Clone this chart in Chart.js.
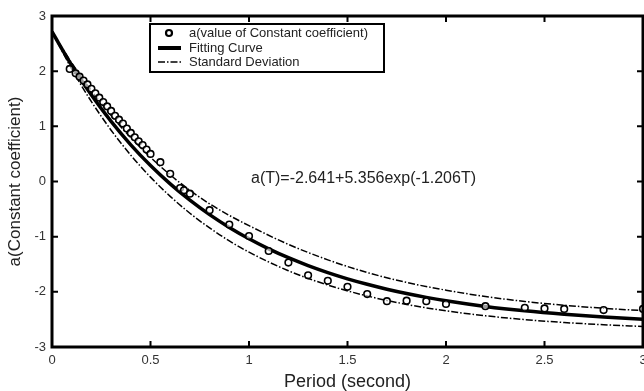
<!DOCTYPE html>
<html>
<head>
<meta charset="utf-8">
<script src="https://cdn.jsdelivr.net/npm/chart.js@4/dist/chart.umd.min.js"></script>
<style>
  html, body { margin: 0; padding: 0; background: #fff; }
  #wrap { width: 644px; height: 391px; }
</style>
</head>
<body>
<div id="wrap"><canvas id="chart"></canvas></div>
<script>
// measured a values (open circles)
const pointT = [0.09, 0.12, 0.14, 0.16, 0.18, 0.2, 0.22, 0.24, 0.26, 0.28, 0.3, 0.32, 0.34, 0.36, 0.38,
    0.4, 0.42, 0.44, 0.46, 0.48, 0.5, 0.55, 0.6, 0.65, 0.67, 0.7, 0.8, 0.9, 1.0, 1.1, 1.2, 1.3, 1.4,
    1.5, 1.6, 1.7, 1.8, 1.9, 2.0, 2.2, 2.4, 2.5, 2.6, 2.8, 3.0];
const pointA = [2.04, 1.96, 1.90, 1.83, 1.76, 1.68, 1.60, 1.52, 1.44, 1.36, 1.28, 1.19, 1.12, 1.05, 0.96,
    0.88, 0.80, 0.73, 0.66, 0.58, 0.50, 0.35, 0.14, -0.12, -0.16, -0.22, -0.52, -0.78, -0.99, -1.26, -1.47, -1.70, -1.80,
    -1.91, -2.04, -2.17, -2.16, -2.17, -2.22, -2.26, -2.29, -2.30, -2.31, -2.33, -2.31];

// fitting curve
const fitT = [0, 0.1, 0.2, 0.3, 0.4, 0.5, 0.6, 0.7, 0.8, 0.9, 1.0, 1.1, 1.2, 1.3, 1.4, 1.5,
    1.6, 1.7, 1.8, 1.9, 2.0, 2.2, 2.4, 2.6, 2.8, 3.0];
const fitA = [2.715, 2.107, 1.567, 1.089, 0.665, 0.290, -0.043, -0.338, -0.600, -0.832, -1.037, -1.220, -1.381, -1.524, -1.651, -1.764,
    -1.863, -1.952, -2.030, -2.100, -2.161, -2.264, -2.345, -2.408, -2.458, -2.497];

// standard deviation band
const sdT = [0, 0.1, 0.2, 0.3, 0.4, 0.5, 0.6, 0.7, 0.8, 0.9, 1.0, 1.2, 1.4, 1.6, 1.8, 2.0, 2.2, 2.4, 2.6, 2.8, 3.0];
const sdUpper = [2.715, 2.150, 1.646, 1.197, 0.796, 0.439, 0.120, -0.160, -0.405, -0.615, -0.800, -1.140, -1.420,
    -1.650, -1.830, -1.970, -2.085, -2.175, -2.243, -2.298, -2.341];
const sdLower = [2.715, 2.040, 1.449, 0.930, 0.477, 0.079, -0.269, -0.575, -0.842, -1.076, -1.281, -1.618, -1.877,
    -2.075, -2.228, -2.345, -2.434, -2.503, -2.556, -2.596, -2.628];

const xTicks = [0, 0.5, 1, 1.5, 2, 2.5, 3];
const yTicks = [-3, -2, -1, 0, 1, 2, 3];

const legendLabels = ['a(value of Constant coefficient)', 'Fitting Curve', 'Standard Deviation'];
const equation = 'a(T)=-2.641+5.356exp(-1.206T)';

const FONT = '"Liberation Sans", Arial, sans-serif';
const SD_DASH = [7, 2, 1.5, 2];

const pairs = (xs, ys) => xs.map((x, i) => ({x: x, y: ys[i]}));

// frame, inward ticks, legend box and the formula
const decorations = {
    id: 'decorations',
    beforeDraw(chart) {
        const ctx = chart.ctx;
        ctx.save();
        ctx.fillStyle = '#fff';
        ctx.fillRect(0, 0, chart.width, chart.height);
        ctx.restore();
    },
    afterDraw(chart) {
        const {ctx, chartArea: a, scales: {x, y}} = chart;
        ctx.save();
        ctx.strokeStyle = '#000';
        ctx.lineWidth = 3;
        ctx.strokeRect(a.left, a.top, a.right - a.left, a.bottom - a.top);

        ctx.lineWidth = 2;
        ctx.beginPath();
        xTicks.forEach(v => {
            const px = x.getPixelForValue(v);
            ctx.moveTo(px, a.bottom); ctx.lineTo(px, a.bottom - 6);
            ctx.moveTo(px, a.top); ctx.lineTo(px, a.top + 6);
        });
        yTicks.forEach(v => {
            const py = y.getPixelForValue(v);
            ctx.moveTo(a.left, py); ctx.lineTo(a.left + 6, py);
            ctx.moveTo(a.right, py); ctx.lineTo(a.right - 6, py);
        });
        ctx.stroke();

        // legend
        const lx = 150, ly = 24, lw = 234, lh = 48;
        ctx.fillStyle = '#fff';
        ctx.fillRect(lx, ly, lw, lh);
        ctx.lineWidth = 2;
        ctx.strokeRect(lx, ly, lw, lh);
        const rows = [33, 48, 62];
        ctx.beginPath();
        ctx.lineWidth = 2.2;
        ctx.arc(169, rows[0], 3, 0, Math.PI * 2);
        ctx.stroke();
        ctx.beginPath();
        ctx.lineWidth = 4;
        ctx.moveTo(158, rows[1]); ctx.lineTo(181, rows[1]);
        ctx.stroke();
        ctx.beginPath();
        ctx.lineWidth = 1.5;
        ctx.setLineDash(SD_DASH);
        ctx.moveTo(158, rows[2]); ctx.lineTo(181, rows[2]);
        ctx.stroke();
        ctx.setLineDash([]);

        ctx.fillStyle = '#222';
        ctx.font = '13px ' + FONT;
        ctx.textBaseline = 'middle';
        ctx.textAlign = 'left';
        legendLabels.forEach((t, i) => ctx.fillText(t, 189, rows[i]));

        ctx.font = '16px ' + FONT;
        ctx.fillText(equation, 251, 179);
        ctx.restore();
    }
};

new Chart(document.getElementById('chart'), {
    type: 'scatter',
    data: {
        datasets: [{
            label: legendLabels[0],
            data: pairs(pointT, pointA),
            showLine: false,
            pointRadius: 3.3,
            pointBorderWidth: 1.6,
            pointBorderColor: '#000',
            pointBackgroundColor: 'rgba(255,255,255,0.6)',
            order: 0
        }, {
            label: legendLabels[1],
            data: pairs(fitT, fitA),
            showLine: true,
            borderColor: '#000',
            borderWidth: 3.5,
            pointRadius: 0,
            cubicInterpolationMode: 'monotone',
            order: 1
        }, {
            label: legendLabels[2],
            data: pairs(sdT, sdUpper),
            showLine: true,
            borderColor: '#000',
            borderWidth: 1.5,
            borderDash: SD_DASH,
            pointRadius: 0,
            cubicInterpolationMode: 'monotone',
            order: 2
        }, {
            label: legendLabels[2],
            data: pairs(sdT, sdLower),
            showLine: true,
            borderColor: '#000',
            borderWidth: 1.5,
            borderDash: SD_DASH,
            pointRadius: 0,
            cubicInterpolationMode: 'monotone',
            order: 3
        }]
    },
    options: {
        responsive: true,
        maintainAspectRatio: false,
        animation: false,
        events: [],
        layout: {autoPadding: false, padding: {top: 16, right: 1, left: 0, bottom: 0}},
        plugins: {
            legend: {display: false},
            tooltip: {enabled: false}
        },
        scales: {
            x: {
                type: 'linear',
                min: 0,
                max: 3,
                afterBuildTicks: s => { s.ticks = xTicks.map(v => ({value: v})); },
                afterFit: s => {
                    s.height = 44;
                    s.paddingLeft = 0;
                    s.paddingRight = 0;
                },
                grid: {display: false, drawTicks: false},
                border: {display: false},
                ticks: {
                    padding: 6,
                    color: '#333',
                    font: {family: FONT, size: 13},
                    maxRotation: 0,
                    callback: v => String(v)
                },
                title: {
                    display: true,
                    text: 'Period (second)',
                    color: '#222',
                    font: {family: FONT, size: 18, lineHeight: 1},
                    padding: {top: 0, bottom: 0}
                }
            },
            y: {
                type: 'linear',
                min: -3,
                max: 3,
                afterBuildTicks: s => { s.ticks = yTicks.map(v => ({value: v})); },
                afterFit: s => {
                    s.width = 52;
                    s.paddingTop = 0;
                    s.paddingBottom = 0;
                },
                grid: {display: false, drawTicks: false},
                border: {display: false},
                ticks: {
                    padding: 6,
                    color: '#333',
                    font: {family: FONT, size: 13},
                    callback: v => String(v)
                },
                title: {
                    display: true,
                    text: 'a(Constant coefficient)',
                    color: '#222',
                    font: {family: FONT, size: 17, lineHeight: 1},
                    padding: {top: 6.5, bottom: 0}
                }
            }
        }
    },
    plugins: [decorations]
});
</script>
</body>
</html>
